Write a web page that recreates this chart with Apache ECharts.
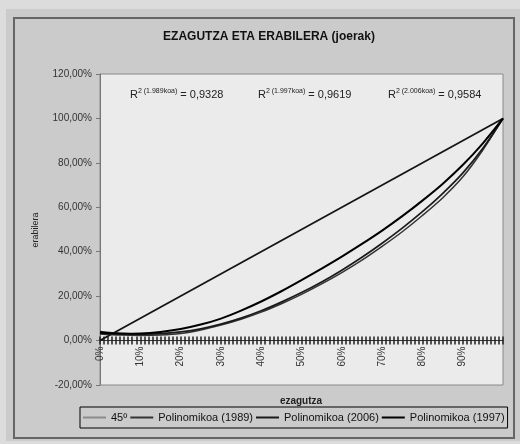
<!DOCTYPE html>
<html>
<head>
<meta charset="utf-8">
<script src="https://cdn.jsdelivr.net/npm/echarts@6/dist/echarts.min.js"></script>
<style>
html,body{margin:0;padding:0;background:#dcdcdc;}
#c{width:520px;height:444px;}
</style>
</head>
<body>
<div id="c"></div>
<script>
// ---- data ----
const xPct = [0,5,10,15,20,25,30,35,40,45,50,55,60,65,70,75,80,85,90,95,100];
const pol1989 = [3,2.5,2.3,2.5,3.2,4.8,7,9.6,12.8,16.6,20.8,25.5,30.6,36.2,42.4,49,56.3,64.2,73.6,85.8,100];
const pol2006 = [4,3.2,2.9,3.1,3.9,5.3,7.4,10.1,13.4,17.3,21.6,26.4,31.7,37.5,43.8,50.6,58,66.2,75.4,86.6,100];
const pol1997 = [3.5,3.1,3.2,3.9,5.2,7.2,9.9,13.5,17.6,22.2,27.2,32.4,37.8,43.5,49.5,56,63,70.5,79,88.8,100];
const diagX = [0,100];
const diagY = [0,100];
const seriesNames = ['45º','Polinomikoa (1989)','Polinomikoa (2006)','Polinomikoa (1997)'];
const r2Years = ['1.989koa','1.997koa','2.006koa'];
const r2Values = ['0,9328','0,9619','0,9584'];
const titleText = 'EZAGUTZA ETA ERABILERA (joerak)';
const xName = 'ezagutza';
const yName = 'erabilera';

const pairs = (xs, ys) => xs.map((x, i) => [x, ys[i]]);
const FF = 'Liberation Sans, Arial, sans-serif';

// grid geometry
const G = {left:100, top:74, right:17, bottom:59};
const Y_MIN = -20, Y_MAX = 120;
const plotH = 444 - G.top - G.bottom;
const zeroFromBottom = plotH * (0 - Y_MIN) / (Y_MAX - Y_MIN);
const zeroFromTop = plotH - zeroFromBottom;

const r2X = [130, 258, 388];
const chart = echarts.init(document.getElementById('c'), null, {renderer:'canvas'});
const r2Graphics = r2Years.map((yr, i) => ({
  type: 'text', x: r2X[i], y: 88, z: 50,
  style: {
    text: '{r|R}{s|2 (' + yr + ')}{n| = ' + r2Values[i] + '}',
    fill: '#222',
    rich: {
      r: {fontSize: 11, fontFamily: FF, fill: '#222', lineHeight: 13},
      s: {fontSize: 7, fontFamily: FF, fill: '#222', verticalAlign: 'top', lineHeight: 13},
      n: {fontSize: 11, fontFamily: FF, fill: '#222', lineHeight: 13}
    }
  }
}));

const lineColors = ['#151515', '#333333', '#1a1a1a', '#000000'];

const option = {
  animation: false,
  backgroundColor: '#dcdcdc',
  graphic: [
    {type:'rect', shape:{x:6, y:9, width:514, height:432}, style:{fill:'#cbcbcb'}, z:-10},
    {type:'rect', shape:{x:14, y:18, width:500, height:420}, style:{fill:'none', stroke:'#666', lineWidth:2}, z:-9},
    {type:'text', x:269, y:37, style:{text:titleText, fontFamily:FF, fontSize:12, fontWeight:'bold', fill:'#111', textAlign:'center', textVerticalAlign:'middle'}},
    {type:'text', x:301, y:401, style:{text:xName, fontFamily:FF, fontSize:10, fontWeight:'bold', fill:'#222', textAlign:'center', textVerticalAlign:'middle'}},
    {type:'text', x:36, y:230, rotation:Math.PI/2, style:{text:yName, fontFamily:FF, fontSize:9, fill:'#222', textAlign:'center', textVerticalAlign:'middle'}}
  ].concat(r2Graphics),
  grid: {left:G.left, top:G.top, right:G.right, bottom:G.bottom, show:true, backgroundColor:'#ebebeb', borderColor:'#8a8a8a', borderWidth:1},
  legend: {
    left: 80, top: 407, orient: 'horizontal',
    borderColor: '#000', borderWidth: 1, padding: [5, 3],
    itemGap: 3, itemWidth: 23, itemHeight: 2, icon: 'rect',
    textStyle: {fontFamily: FF, fontSize: 11, color: '#111'},
    data: [
      {name: seriesNames[0], itemStyle:{color:'#8a8a8a'}},
      {name: seriesNames[1], itemStyle:{color:lineColors[1]}},
      {name: seriesNames[2], itemStyle:{color:lineColors[2]}},
      {name: seriesNames[3], itemStyle:{color:lineColors[3]}}
    ]
  },
  xAxis: [
    {
      type: 'value', min: 0, max: 100, interval: 1, position: 'bottom', offset: -zeroFromBottom,
      axisLine: {show: true, onZero: false, lineStyle: {color: '#333', width: 1}},
      axisTick: {show: true, length: 4, lineStyle: {color: '#222', width: 1.5}},
      axisLabel: {
        show: true, rotate: 90, margin: 6, fontFamily: FF, fontSize: 10, color: '#333',
        formatter: v => (v % 10 === 0 && v < 100) ? v + '%' : ''
      },
      splitLine: {show: false}
    },
    {
      type: 'value', min: 0, max: 100, interval: 1, position: 'top', offset: -zeroFromTop,
      axisLine: {show: false, onZero: false},
      axisTick: {show: true, length: 4, lineStyle: {color: '#222', width: 1.5}},
      axisLabel: {show: false},
      splitLine: {show: false}
    }
  ],
  yAxis: {
    type: 'value', min: Y_MIN, max: Y_MAX, interval: 20,
    axisLine: {show: true, onZero: false, lineStyle: {color: '#777'}},
    axisTick: {show: true, length: 4, lineStyle: {color: '#777'}},
    axisLabel: {fontFamily: FF, fontSize: 10, color: '#333', margin: 8,
      formatter: v => v.toFixed(2).replace('.', ',') + '%'},
    splitLine: {show: false}
  },
  series: [
    {name: seriesNames[0], type:'line', color: lineColors[0], data: pairs(diagX, diagY), symbol:'none', lineStyle:{color:lineColors[0], width:1.8}, z: 3},
    {name: seriesNames[1], type:'line', color: lineColors[1], data: pairs(xPct, pol1989), symbol:'none', smooth:0.3, lineStyle:{color:lineColors[1], width:1.5}, z: 3},
    {name: seriesNames[2], type:'line', color: lineColors[2], data: pairs(xPct, pol2006), symbol:'none', smooth:0.3, lineStyle:{color:lineColors[2], width:1.7}, z: 3},
    {name: seriesNames[3], type:'line', color: lineColors[3], data: pairs(xPct, pol1997), symbol:'none', smooth:0.3, lineStyle:{color:lineColors[3], width:2}, z: 3}
  ]
};
chart.setOption(option);
</script>
</body>
</html>
